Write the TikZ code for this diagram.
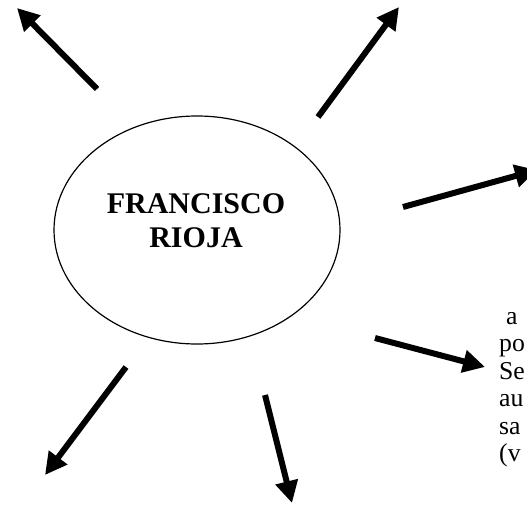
\documentclass[tikz,border=0pt]{standalone}
\usepackage{fontspec}
\setmainfont{Liberation Serif}
\usetikzlibrary{arrows.meta,shapes.geometric}
\tikzset{
  bigarrow/.style={line width=6pt, -{Triangle[length=22pt,width=22pt]}},
  title/.style={font=\fontsize{30}{34.5}\selectfont\bfseries, inner sep=0pt, anchor=base},
  body/.style={font=\fontsize{25.7}{29.6}\selectfont, inner sep=0pt, anchor=base west},
}
\begin{document}
\begin{tikzpicture}[x=1pt,y=-1pt]
\useasboundingbox (0,0) rectangle (527,506);
\node[draw, ellipse, line width=1.2pt, minimum width=286pt, minimum height=228pt, inner sep=0pt] (e) at (197,230) {};
\node[title] (t1) at (196,213) {FRANCISCO};
\node[title] (t2) at (196,247) {RIOJA};
% arrows
\coordinate (a1s) at (97,89);   \coordinate (a1e) at (17,8);
\coordinate (a2s) at (318,117); \coordinate (a2e) at (399,7);
\coordinate (a3s) at (403,207); \coordinate (a3e) at (537,170);
\coordinate (a4s) at (375,338); \coordinate (a4e) at (485,367);
\coordinate (a5s) at (126,367); \coordinate (a5e) at (45,475);
\coordinate (a6s) at (265,395); \coordinate (a6e) at (292,503);
\draw[bigarrow] (a1s) -- (a1e);
\draw[bigarrow] (a2s) -- (a2e);
\draw[bigarrow] (a3s) -- (a3e);
\draw[bigarrow] (a4s) -- (a4e);
\draw[bigarrow] (a5s) -- (a5e);
\draw[bigarrow] (a6s) -- (a6e);
% right text (cut by the edge)
\node[body] (r1) at (506,324) {a};
\node[body] (r2) at (499,351.5) {po};
\node[body] (r3) at (499,379) {Se};
\node[body] (r4) at (499,406.5) {au};
\node[body] (r5) at (499,434) {sa};
\node[body] (r6) at (499,461.5) {(v};
\end{tikzpicture}
\end{document}
